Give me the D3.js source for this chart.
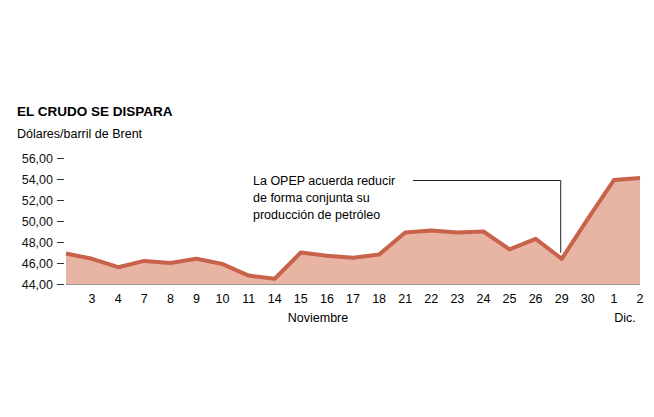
<!DOCTYPE html>
<html><head><meta charset="utf-8">
<script src="https://cdn.jsdelivr.net/npm/d3@7"></script>
<style>body{margin:0;background:#fff;font-family:"Liberation Sans",Arial,sans-serif}</style>
</head><body><svg id="c" width="654" height="417"></svg>
<script>
const labels = ["","3","4","7","8","9","10","11","14","15","16","17","18","21","22","23","24","25","26","29","30","1","2"];
const values = [46.9,46.4,45.6,46.2,46.0,46.4,45.9,44.8,44.5,47.0,46.7,46.5,46.8,48.9,49.1,48.9,49.0,47.3,48.3,46.4,50.2,53.9,54.1];
const yTicks = [44,46,48,50,52,54,56];
const svg = d3.select("#c");
const x = d3.scalePoint().domain(d3.range(labels.length)).range([66,640]);
const y = d3.scaleLinear().domain([44,56]).range([284,158]);
svg.append("text").attr("x",17).attr("y",116).attr("font-size",13.5).attr("font-weight","bold").text("EL CRUDO SE DISPARA");
svg.append("text").attr("x",17).attr("y",138).attr("font-size",12.5).text("Dólares/barril de Brent");
svg.append("path").datum(values).attr("fill","#e8b5a5")
 .attr("d",d3.area().x((d,i)=>x(i)).y0(y(44)).y1(d=>y(d)));
const ya = svg.append("g").attr("transform","translate(64,0)")
 .call(d3.axisLeft(y).tickValues(yTicks).tickSize(7).tickPadding(4).tickFormat(d=>d3.format(".2f")(d).replace(".",",")));
ya.select(".domain").remove();
ya.selectAll("text").attr("font-size",12.5).attr("font-family","Liberation Sans, Arial").attr("fill","#111");
ya.selectAll("line").attr("stroke","#333");
svg.append("line").attr("x1",66).attr("x2",640).attr("y1",284.5).attr("y2",284.5).attr("stroke","#999");
svg.append("g").selectAll("text").data(labels).join("text")
 .attr("x",(d,i)=>x(i)).attr("y",303).attr("text-anchor","middle").attr("font-size",12.5).text(d=>d);
svg.append("text").attr("x",318).attr("y",322).attr("text-anchor","middle").attr("font-size",12.5).text("Noviembre");
svg.append("text").attr("x",625).attr("y",322).attr("text-anchor","middle").attr("font-size",12.5).text("Dic.");
svg.append("path").datum(values).attr("fill","none").attr("stroke","#c8624b").attr("stroke-width",4).attr("stroke-linejoin","round")
 .attr("d",d3.line().x((d,i)=>x(i)).y(d=>y(d)));
const ai = 19;
svg.append("polyline").attr("fill","none").attr("stroke","#222").attr("stroke-width",1)
 .attr("points",`413,180.5 ${x(ai)-1},180.5 ${x(ai)-1},${y(values[ai])-6}`);
["La OPEP acuerda reducir","de forma conjunta su","producción de petróleo"].forEach((t,i)=>
 svg.append("text").attr("x",253).attr("y",185+i*17).attr("font-size",12.5).text(t));
</script></body></html>
